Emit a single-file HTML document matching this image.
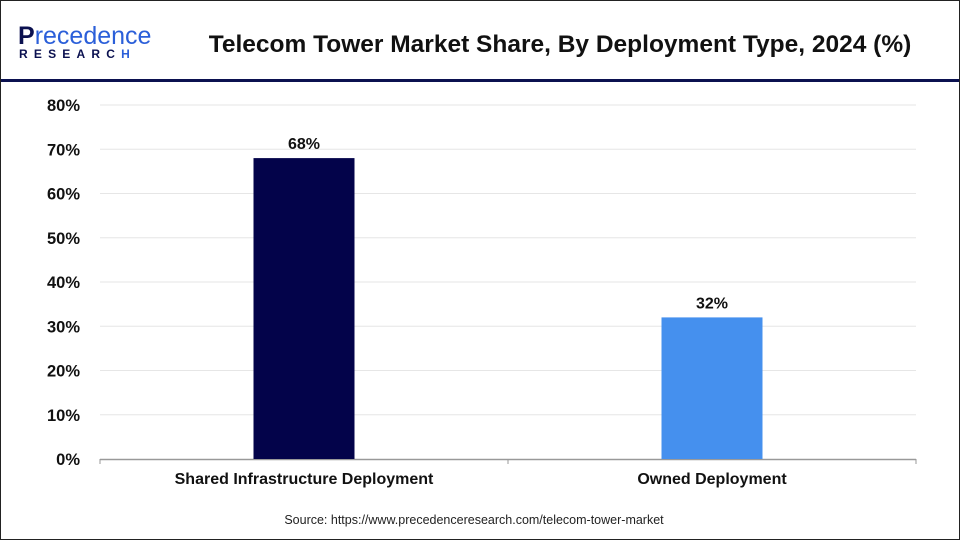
<!DOCTYPE html>
<html><head><meta charset="utf-8"><style>
body{margin:0;width:960px;height:540px;overflow:hidden;background:#fff;font-family:"Liberation Sans",sans-serif}
#frame{position:absolute;left:0;top:0;width:958px;height:538px;border:1px solid #222}
</style></head><body>
<div id="frame"></div>
<svg width="960" height="540" style="position:absolute;left:0;top:0">
<g>
<text x="18" y="44" font-size="25" font-weight="bold" fill="#0b1150">P<tspan fill="#2b5fd9" font-weight="normal">recedence</tspan></text>
<text x="19" y="58" font-size="12" font-weight="bold" fill="#0b1150" letter-spacing="6.2">RESEARC<tspan fill="#2b5fd9">H</tspan></text>
</g>
<text x="560" y="52" text-anchor="middle" font-size="24.5" font-weight="bold" fill="#111">Telecom Tower Market Share, By Deployment Type, 2024 (%)</text>
<rect x="1" y="79" width="958" height="3" fill="#0b1150"/>
<g id="grid"></g><g id="bars"></g>
<text x="474" y="524" text-anchor="middle" font-size="12.5" fill="#222">Source: https://www.precedenceresearch.com/telecom-tower-market</text>
</svg>
<script>
const categories=["Shared Infrastructure Deployment","Owned Deployment"];
const values=[68,32];
const ticks=[0,10,20,30,40,50,60,70,80];
const colors=["#03034a","#4590ee"];
const x0=100,x1=916,yBase=459,yTop=105,maxV=80;
const y=v=>yBase-(v/maxV)*(yBase-yTop);
const ns="http://www.w3.org/2000/svg";
const grid=document.getElementById('grid'),bars=document.getElementById('bars');
function mk(tag,attrs,parent,text){const e=document.createElementNS(ns,tag);for(const k in attrs)e.setAttribute(k,attrs[k]);if(text!==undefined)e.textContent=text;parent.appendChild(e);return e;}
ticks.forEach(t=>{
 if(t>0){const l=mk('line',{x1:x0,x2:x1,y1:y(t),y2:y(t),stroke:'#e6e6e6','stroke-width':1},grid);
 
 }
 const tx=mk('text',{x:80,y:y(t)+6,'text-anchor':'end','font-size':16.5,'font-weight':'bold',fill:'#111'},grid,t+'%');
 
 
});
const ax=mk('line',{x1:x0,x2:x1,y1:yBase+0.5,y2:yBase+0.5,stroke:'#999','stroke-width':1.5},grid);


const band=(x1-x0)/categories.length;
for(let i=0;i<=categories.length;i++){const tk=mk('line',{x1:x0+band*i,x2:x0+band*i,y1:yBase,y2:yBase+5,stroke:'#999'},grid);
 
 }
const bw=101;
categories.forEach((c,i)=>{
 const cx=x0+band*(i+0.5);
 const r=mk('rect',{x:cx-bw/2,y:y(values[i]),width:bw,height:yBase-y(values[i]),fill:colors[i]},bars);
 
 
 const v=mk('text',{x:cx,y:y(values[i])-9,'text-anchor':'middle','font-size':16,'font-weight':'bold',fill:'#111'},bars,values[i]+'%');
 
 
 const l=mk('text',{x:cx,y:484,'text-anchor':'middle','font-size':16,'font-weight':'bold',fill:'#111'},bars,c);
 
 
});
</script>
</body></html>
